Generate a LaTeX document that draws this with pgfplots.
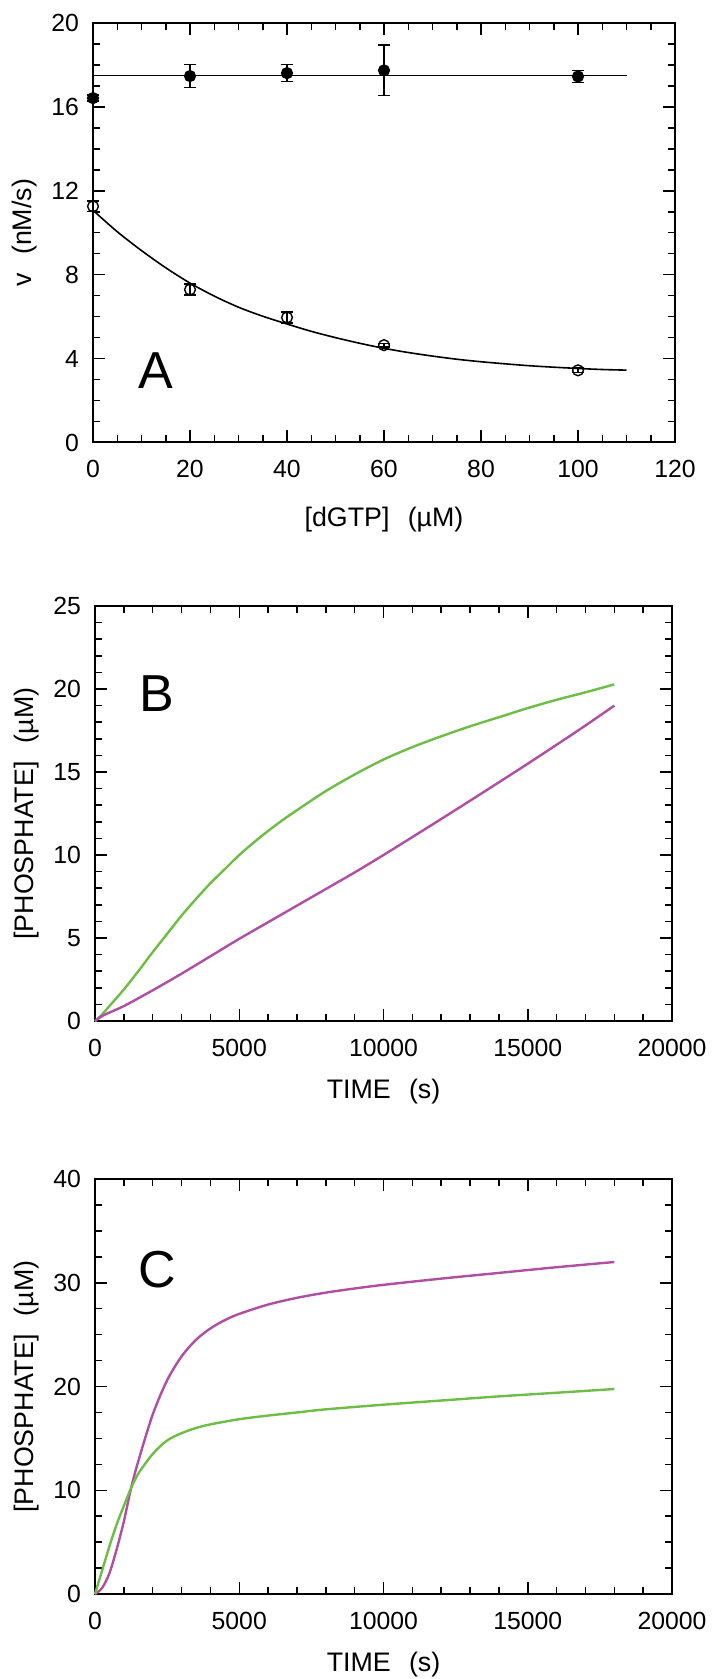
\documentclass[border=0pt]{standalone}
\usepackage{fontspec}
\setmainfont{Liberation Sans}
\usepackage{pgfplots}
\pgfplotsset{compat=1.18}
\definecolor{cgreen}{RGB}{108,190,69}
\definecolor{cmag}{RGB}{176,78,164}
\newcommand{\lblfont}{\fontsize{13.4}{15}\selectfont}
\newcommand{\gap}{\hspace{0.68em}}
\pgfplotsset{
  panel/.style={
    scale only axis,
    clip=false,
    axis line style={line width=1pt},
    tick align=inside,
    xtick pos=both, ytick pos=both,
    ticklabel pos=left,
    major tick length=6pt,
    minor tick length=3.6pt,
    every tick/.style={line width=0.75pt, black},
    /pgf/number format/assume math mode=true,
    /pgf/number format/1000 sep={},
    tick label style={font=\fontsize{12.4}{14}\selectfont},
    xticklabel style={yshift=-5.5pt},
    yticklabel style={xshift=-3.5pt},
    every axis y label/.style={at={(axis description cs:0,0.5)}, xshift=-34pt, rotate=90, anchor=center, font=\lblfont},
    scaled ticks=false,
  }
}
\begin{document}
\begin{tikzpicture}
\useasboundingbox (0,0) rectangle (356.5pt,-839.5pt);

% ---------------- Panel A ----------------
\begin{axis}[panel,
  at={(46.5pt,-221.25pt)}, anchor=south west,
  width=291pt, height=209.75pt,
  xmin=0, xmax=120, ymin=0, ymax=20,
  xtick={0,20,...,120}, minor xtick={5,10,...,115},
  ytick={0,4,...,20}, minor ytick={1,2,...,19},
  xlabel={[dGTP]\gap(µM)},
  ylabel={v\gap(nM/s)},
  every axis x label/.style={at={(axis description cs:0.5,0)}, yshift=-38.5pt, anchor=center, font=\lblfont},
]
\addplot[black, line width=0.8pt] coordinates {(0,17.5) (110,17.5)};
\addplot[black, line width=0.8pt, smooth] coordinates {
(0,11.07) (5,10.05) (10,9.15) (15,8.33) (20,7.60) (25,6.98) (30,6.45) (35,6.02)
(40,5.65) (45,5.30) (50,5.00) (55,4.73) (60,4.49) (65,4.29) (70,4.12) (75,3.97)
(80,3.85) (85,3.75) (90,3.66) (95,3.59) (100,3.53) (105,3.48) (110,3.45)};
\addplot[black, only marks, mark=*, mark size=2.7pt, line width=0.7pt,
  error bars/.cd, y dir=both, y explicit,
  error bar style={line width=0.75pt, black},
  error mark options={black, rotate=90, mark size=2.8pt, line width=0.75pt}]
  table[x=x, y=y, y error=e] {
x y e
0 16.42 0.15
20 17.47 0.54
40 17.61 0.41
60 17.74 1.20
100 17.45 0.28
};
\addplot[black, only marks, mark=o, mark size=2.7pt, line width=0.7pt,
  mark options={fill=white},
  error bars/.cd, y dir=both, y explicit,
  error bar style={line width=0.75pt, black},
  error mark options={black, rotate=90, mark size=2.8pt, line width=0.75pt}]
  table[x=x, y=y, y error=e] {
x y e
0 11.26 0.25
20 7.29 0.26
40 5.96 0.27
60 4.64 0.08
100 3.44 0.10
};
\node[font=\fontsize{26}{30}\selectfont] at (axis cs:13,3.45) {A};
\end{axis}

% ---------------- Panel B ----------------
\begin{axis}[panel,
  at={(47.5pt,-510.5pt)}, anchor=south west,
  width=288.5pt, height=207.5pt,
  xmin=0, xmax=20000, ymin=0, ymax=25,
  xtick={0,5000,...,20000}, minor xtick={1000,2000,...,19000},
  ytick={0,5,...,25}, minor ytick={1,2,...,24},
  xlabel={TIME\gap(s)},
  ylabel={[PHOSPHATE]\gap(µM)},
  every axis x label/.style={at={(axis description cs:0.5,0)}, yshift=-35.5pt, anchor=center, font=\lblfont},
]
\addplot[cgreen, line width=1.2pt, smooth] coordinates {
(0,0) (250,0.4) (500,0.9) (1000,1.9) (1500,3.0) (2000,4.15) (2500,5.25)
(3000,6.35) (3500,7.35) (4000,8.3) (4500,9.15) (5000,10.0) (5500,10.75)
(6000,11.45) (6500,12.1) (7000,12.7) (8000,13.85) (9000,14.85)
(10000,15.75) (11000,16.5) (12000,17.15) (13000,17.75) (14000,18.3)
(15000,18.85) (16000,19.35) (17000,19.8) (18000,20.28)};
\addplot[cmag, line width=1.2pt, smooth] coordinates {
(0,0) (300,0.35) (1000,0.9) (2000,1.85) (3000,2.85) (4000,3.9) (5000,4.95)
(6000,5.95) (7000,6.95) (8000,7.95) (9000,8.95) (10000,10.0) (11000,11.08)
(12000,12.17) (13000,13.27) (14000,14.38) (15000,15.5) (16000,16.64)
(17000,17.8) (18000,19.0)};
\node[font=\fontsize{26}{30}\selectfont] at (axis cs:2160,19.7) {B};
\end{axis}

% ---------------- Panel C ----------------
\begin{axis}[panel,
  at={(47.5pt,-797pt)}, anchor=south west,
  width=288.5pt, height=207.5pt,
  xmin=0, xmax=20000, ymin=0, ymax=40,
  xtick={0,5000,...,20000}, minor xtick={1000,2000,...,19000},
  ytick={0,10,...,40}, minor ytick={2.5,5,...,37.5},
  xlabel={TIME\gap(s)},
  ylabel={[PHOSPHATE]\gap(µM)},
  every axis x label/.style={at={(axis description cs:0.5,0)}, yshift=-35.5pt, anchor=center, font=\lblfont},
]
\addplot[cmag, line width=1.2pt, smooth] coordinates {
(0,0) (250,0.6) (500,2.0) (750,4.3) (1000,7.0) (1250,10.2) (1500,12.8)
(2000,17.3) (2500,20.6) (3000,22.9) (3500,24.5) (4000,25.6) (4500,26.4)
(5000,27.0) (6000,27.9) (7000,28.55) (8000,29.05) (9000,29.45) (10000,29.8)
(12000,30.4) (14000,30.95) (16000,31.5) (18000,32.0)};
\addplot[cgreen, line width=1.2pt, smooth] coordinates {
(0,0) (250,2.3) (500,4.6) (750,6.7) (1000,8.5) (1250,10.2) (1500,11.6)
(2000,13.5) (2500,14.8) (3000,15.5) (3500,16.0) (4000,16.35) (5000,16.85)
(6000,17.2) (7000,17.5) (8000,17.8) (10000,18.25) (12000,18.65)
(14000,19.05) (16000,19.4) (18000,19.76)};
\node[font=\fontsize{26}{30}\selectfont] at (axis cs:2160,31.3) {C};
\end{axis}
\end{tikzpicture}
\end{document}
